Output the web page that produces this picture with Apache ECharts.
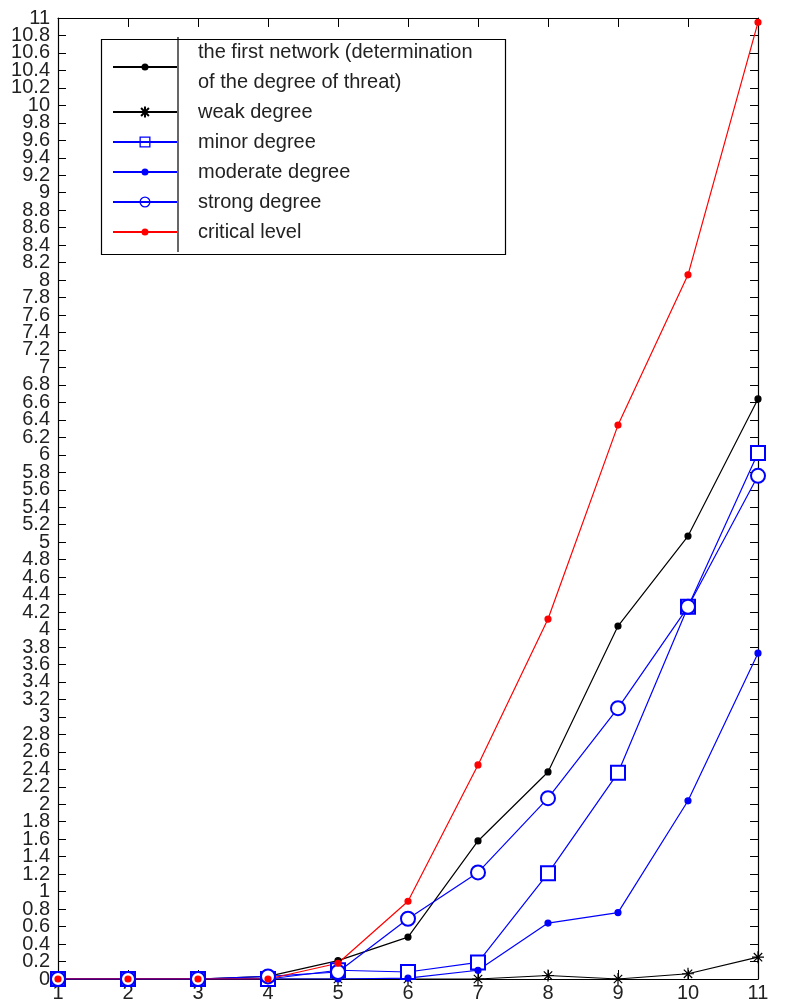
<!DOCTYPE html>
<html>
<head>
<meta charset="utf-8">
<style>html,body{margin:0;padding:0;background:#fff;}#c{width:787px;height:1004px;}</style>
<script src="https://cdn.jsdelivr.net/npm/echarts@6/dist/echarts.min.js"></script>
</head>
<body>
<div id="c"></div>
<script>
var categories = ['1','2','3','4','5','6','7','8','9','10','11'];
var firstNetwork = [0,0,0,0.03,0.21,0.48,1.58,2.37,4.04,5.07,6.64];
var weak = [0,0,0,0,0,0,0,0.04,0,0.06,0.25];
var minor = [0,0,0,0,0.1,0.08,0.19,1.21,2.36,4.26,6.02];
var moderate = [0,0,0,0,0,0.01,0.1,0.64,0.76,2.04,3.73];
var strong = [0,0,0,0.03,0.08,0.69,1.22,2.07,3.10,4.26,5.76];
var critical = [0,0,0,0,0.18,0.89,2.45,4.12,6.34,8.06,10.95];
var names = ['the first network (determination\nof the degree of threat)','weak degree','minor degree','moderate degree','strong degree','critical level'];

var FONT = 'Liberation Sans';
var chart = echarts.init(document.getElementById('c'), null, {renderer:'canvas'});
var star = 'path://M0,-6L0,6M-6,0L6,0M-4.2,-4.2L4.2,4.2M-4.2,4.2L4.2,-4.2';

// legend icons (64 x 14 box): tiny corner anchors keep the box, line + marker
var anchors = 'M0,0L0.01,0L0,0.01ZM64,14L63.99,14L64,13.99Z';
var lineBar = 'M0,6L64,6L64,8L0,8Z';
var iconDot = 'path://' + anchors + lineBar + 'M35.5,7A3.5,3.5 0 1,1 28.5,7A3.5,3.5 0 1,1 35.5,7Z';
var iconSquare = 'path://' + anchors + lineBar +
  'M26.5,1.5L37.5,1.5L37.5,12.5L26.5,12.5Z' +
  'M27.8,2.8L27.8,11.2L36.2,11.2L36.2,2.8Z';
var iconCircle = 'path://' + anchors + lineBar +
  'M37.5,7A5.5,5.5 0 1,1 26.5,7A5.5,5.5 0 1,1 37.5,7Z' +
  'M36.2,7A4.2,4.2 0 1,0 27.8,7A4.2,4.2 0 1,0 36.2,7Z';
var noBorder = {borderWidth: 0};

function ser(name, data, color, symbol, size){
  return {
    name: name, type: 'line', data: data, animation: false,
    symbol: symbol, symbolSize: size,
    lineStyle: {color: color, width: 1.2},
    itemStyle: {color: color, borderColor: color, borderWidth: 1.2},
    emphasis: {disabled: true}
  };
}
var yLabelStyle = {color: '#222', fontSize: 20, fontFamily: FONT, margin: 8,
  formatter: function(v){ return String(Math.round(v*10)/10); }};
var option = {
  backgroundColor: '#fff',
  animation: false,
  grid: {left: 58, right: 29, top: 18, bottom: 25, show: false},
  xAxis: [{
    type: 'category', data: categories, boundaryGap: false,
    axisLine: {show: true, onZero: false, lineStyle: {color: '#000', width: 1.2}},
    axisTick: {show: true, inside: true, length: 9, alignWithLabel: true, lineStyle: {color: '#000'}},
    axisLabel: {color: '#222', fontSize: 20, fontFamily: FONT, margin: 4, showMinLabel: true, showMaxLabel: true, interval: 0},
    splitLine: {show: false}
  },{
    type: 'category', data: categories, boundaryGap: false, position: 'top',
    axisLine: {show: true, onZero: false, lineStyle: {color: '#000', width: 1.2}},
    axisTick: {show: true, inside: true, length: 9, lineStyle: {color: '#000'}},
    axisLabel: {show: false},
    splitLine: {show: false}
  }],
  yAxis: [{
    type: 'value', min: 0, max: 11, interval: 0.2, position: 'left',
    axisLine: {show: true, onZero: false, lineStyle: {color: '#000', width: 1.2}},
    axisTick: {show: true, inside: true, length: 8, lineStyle: {color: '#000'}},
    axisLabel: yLabelStyle,
    splitLine: {show: false}
  },{
    type: 'value', min: 0, max: 11, interval: 0.2, position: 'right',
    axisLine: {show: true, onZero: false, lineStyle: {color: '#000', width: 1.2}},
    axisTick: {show: true, inside: true, length: 8, lineStyle: {color: '#000'}},
    axisLabel: {show: false},
    splitLine: {show: false}
  },{
    type: 'value', min: 0, max: 11, interval: 11, position: 'left', offset: 0,
    axisLine: {show: false}, axisTick: {show: false},
    axisLabel: Object.assign({}, yLabelStyle, {showMinLabel: true, showMaxLabel: true}),
    splitLine: {show: false}
  }],
  legend: {
    orient: 'vertical', left: 112, top: 37, padding: 0, itemGap: 0,
    itemWidth: 64, itemHeight: 14,
    selectedMode: false,
    data: [
      {name: names[0], icon: iconDot, itemStyle: noBorder},
      {name: names[1]},
      {name: names[2], icon: iconSquare, itemStyle: noBorder},
      {name: names[3], icon: iconDot, itemStyle: noBorder},
      {name: names[4], icon: iconCircle, itemStyle: noBorder},
      {name: names[5], icon: iconDot, itemStyle: noBorder}
    ],
    textStyle: {color: '#222', fontSize: 20, fontFamily: FONT, lineHeight: 30, padding: [0,0,0,16]}
  },
  graphic: [
    {type: 'rect', left: 99, top: 37, shape: {width: 404, height: 215}, style: {fill: 'none', stroke: '#000', lineWidth: 1.2}, z: 100},
    {type: 'line', shape: {x1: 178, y1: 37, x2: 178, y2: 252}, style: {stroke: '#000', lineWidth: 1.2}, z: 100}
  ],
  series: [
    ser(names[0], firstNetwork, '#000000', 'circle', 6),
    ser(names[1], weak, '#000000', star, 12),
    ser(names[2], minor, '#0000ff', 'emptyRect', 14),
    ser(names[3], moderate, '#0000ff', 'circle', 6),
    ser(names[4], strong, '#0000ff', 'emptyCircle', 14),
    ser(names[5], critical, '#ff0000', 'circle', 6)
  ]
};
chart.setOption(option);
</script>
</body>
</html>
